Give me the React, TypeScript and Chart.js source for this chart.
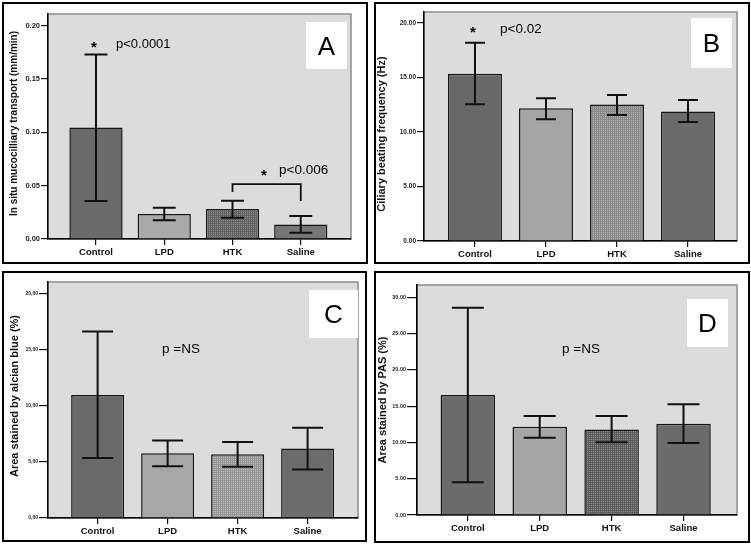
import React, { useEffect, useRef } from "react";
import { Chart, registerables } from "chart.js";

Chart.register(...registerables);

// ---------- data ----------
const categories = ["Control", "LPD", "HTK", "Saline"];

const transportMean = [0.1045, 0.0234, 0.0281, 0.0137];
const transportLow = [0.0356, 0.0175, 0.02, 0.0059];
const transportHigh = [0.173, 0.0293, 0.0359, 0.0215];
const transportTicks = [0, 0.05, 0.1, 0.15, 0.2];
const transportTickLabels = ["0.00", "0.05", "0.10", "0.15", "0.20"];

const cbfMean = [15.34, 12.18, 12.52, 11.87];
const cbfLow = [12.55, 11.17, 11.56, 10.92];
const cbfHigh = [18.19, 13.1, 13.4, 12.94];
const cbfTicks = [0, 5, 10, 15, 20];
const cbfTickLabels = ["0.00", "5.00", "10.00", "15.00", "20.00"];

const alcianMean = [10.95, 5.77, 5.68, 6.19];
const alcianLow = [5.33, 4.6, 4.55, 4.32];
const alcianHigh = [16.6, 6.9, 6.76, 8.04];
const alcianTicks = [0, 5, 10, 15, 20];
const alcianTickLabels = ["0,00", "5,00", "10,00", "15,00", "20,00"];

const pasMean = [16.54, 12.17, 11.8, 12.59];
const pasLow = [4.5, 10.66, 10.01, 9.92];
const pasHigh = [28.57, 13.64, 13.64, 15.25];
const pasTicks = [0, 5, 10, 15, 20, 25, 30];
const pasTickLabels = ["0.00", "5.00", "10.00", "15.00", "20.00", "25.00", "30.00"];

const FAMILY = '"Liberation Sans", Arial, Helvetica, sans-serif';

type Note = { kind: "star" | "text"; text: string; x: number; y: number; size: number };
type Bracket = { from: number; to: number; y: number; leftEnd: number; rightEnd: number };

interface PanelProps {
  left: number;
  top: number;
  width: number;
  height: number;
  area: { left: number; top: number; right: number; bottom: number };
  xMin: number;
  xMax: number;
  catPct: number;
  yMax: number;
  yTicks: number[];
  yTickLabels: string[];
  tickFont: number;
  tickLen: number;
  title: string;
  titleSize: number;
  titleX: number;
  titleY: number;
  mean: number[];
  low: number[];
  high: number[];
  colors: string[];
  htkTones: [string, string];
  cap: number;
  letter: string;
  letterBox: [number, number, number, number];
  notes: Note[];
  bracket?: Bracket;
}

function makePattern(a: string, b: string): CanvasPattern | string {
  const c = document.createElement("canvas");
  c.width = 2;
  c.height = 2;
  const g = c.getContext("2d");
  if (!g) return a;
  g.fillStyle = a;
  g.fillRect(0, 0, 1, 2);
  g.fillStyle = b;
  g.fillRect(1, 0, 1, 2);
  g.fillStyle = a;
  g.fillRect(1, 1, 1, 1);
  const p = g.createPattern(c, "repeat");
  return p || a;
}

function drawCentered(ctx: CanvasRenderingContext2D, text: string, cx: number, cy: number) {
  const m = ctx.measureText(text);
  const asc = m.actualBoundingBoxAscent;
  const desc = m.actualBoundingBoxDescent;
  ctx.textAlign = "center";
  ctx.textBaseline = "alphabetic";
  ctx.fillText(text, cx, cy + (asc - desc) / 2);
}

function Panel(p: PanelProps) {
  const ref = useRef<HTMLCanvasElement | null>(null);

  useEffect(() => {
    const canvas = ref.current;
    if (!canvas) return;
    const colors = p.colors.map((c, i) =>
      i === 2 ? makePattern(p.htkTones[0], p.htkTones[1]) : c
    );

    const deco = {
      id: "panelDeco",
      beforeDraw(chart: any) {
        const { ctx, chartArea: a, width, height } = chart;
        ctx.save();
        ctx.fillStyle = "#ffffff";
        ctx.fillRect(0, 0, width, height);
        ctx.fillStyle = "#dcdcdc";
        ctx.fillRect(a.left, a.top, a.right - a.left, a.bottom - a.top);
        ctx.strokeStyle = "#8c8c8c";
        ctx.lineWidth = 1.5;
        ctx.strokeRect(a.left, a.top, a.right - a.left, a.bottom - a.top);
        ctx.strokeStyle = "#000";
        ctx.lineWidth = 2;
        ctx.strokeRect(1, 1, width - 2, height - 2);
        // y title
        ctx.translate(p.titleX, p.titleY);
        ctx.rotate(-Math.PI / 2);
        ctx.font = `bold ${p.titleSize}px ${FAMILY}`;
        ctx.fillStyle = "#111";
        ctx.textAlign = "center";
        ctx.textBaseline = "middle";
        ctx.fillText(p.title, 0, 0);
        ctx.restore();
      },
      afterDatasetsDraw(chart: any) {
        const { ctx } = chart;
        const xs = chart.scales.x;
        const ys = chart.scales.y;
        ctx.save();
        // error bars
        ctx.strokeStyle = "#111";
        ctx.lineWidth = 2;
        p.mean.forEach((_, i) => {
          const cx = xs.getPixelForValue(i);
          const yl = ys.getPixelForValue(p.low[i]);
          const yh = ys.getPixelForValue(p.high[i]);
          const h = p.cap / 2;
          ctx.beginPath();
          ctx.moveTo(cx, yl);
          ctx.lineTo(cx, yh);
          ctx.moveTo(cx - h, yl);
          ctx.lineTo(cx + h, yl);
          ctx.moveTo(cx - h, yh);
          ctx.lineTo(cx + h, yh);
          ctx.stroke();
        });
        // bracket
        if (p.bracket) {
          const b = p.bracket;
          const x1 = xs.getPixelForValue(b.from);
          const x2 = xs.getPixelForValue(b.to);
          const yb = ys.getPixelForValue(b.y);
          ctx.lineWidth = 1.8;
          ctx.beginPath();
          ctx.moveTo(x1, ys.getPixelForValue(b.leftEnd));
          ctx.lineTo(x1, yb);
          ctx.lineTo(x2, yb);
          ctx.lineTo(x2, ys.getPixelForValue(b.rightEnd));
          ctx.stroke();
        }
        // letter box
        const [bx, by, bw, bh] = p.letterBox;
        ctx.fillStyle = "#ffffff";
        ctx.fillRect(bx, by, bw, bh);
        ctx.fillStyle = "#000";
        ctx.font = `26px ${FAMILY}`;
        drawCentered(ctx, p.letter, bx + bw / 2, by + bh / 2);
        // notes
        p.notes.forEach((n) => {
          ctx.fillStyle = "#000";
          if (n.kind === "star") {
            ctx.font = `bold ${n.size}px ${FAMILY}`;
            drawCentered(ctx, n.text, n.x, n.y);
          } else {
            ctx.font = `${n.size}px ${FAMILY}`;
            ctx.textAlign = "left";
            ctx.textBaseline = "alphabetic";
            ctx.fillText(n.text, n.x, n.y);
          }
        });
        ctx.restore();
      },
    };

    const chart = new Chart(canvas, {
      type: "bar",
      data: {
        datasets: [
          {
            data: p.mean.map((v, i) => ({ x: i, y: v })),
            backgroundColor: colors as any,
            borderColor: "#151515",
            borderWidth: 1.5,
            barPercentage: 1,
            categoryPercentage: p.catPct,
          },
        ],
      },
      options: {
        responsive: false,
        animation: false,
        devicePixelRatio: 1,
        layout: {
          padding: {
            left: 0,
            top: p.area.top,
            right: p.width - p.area.right,
            bottom: 0,
          },
        },
        plugins: {
          legend: { display: false },
          tooltip: { enabled: false },
          title: { display: false },
        },
        scales: {
          x: {
            type: "linear",
            offset: false,
            min: p.xMin,
            max: p.xMax,
            afterBuildTicks: (s: any) => {
              s.ticks = categories.map((_, i) => ({ value: i }));
            },
            afterFit: (s: any) => {
              s.height = p.height - p.area.bottom;
            },
            ticks: {
              callback: (_v: any, i: number) => categories[i],
              font: { size: 9.5, weight: "bold", family: FAMILY },
              color: "#111",
              padding: 2,
              maxRotation: 0,
              autoSkip: false,
            },
            grid: {
              offset: false,
              drawOnChartArea: false,
              drawTicks: true,
              tickLength: 6,
              color: "#111",
              lineWidth: 1.2,
            },
            border: { display: true, color: "#000", width: 1.5 },
          },
          y: {
            type: "linear",
            min: 0,
            max: p.yMax,
            afterBuildTicks: (s: any) => {
              s.ticks = p.yTicks.map((v) => ({ value: v }));
            },
            afterFit: (s: any) => {
              s.width = p.area.left;
            },
            ticks: {
              callback: (_v: any, i: number) => p.yTickLabels[i],
              font: { size: p.tickFont, weight: "bold", family: FAMILY },
              color: "#222",
              padding: 1,
              autoSkip: false,
            },
            grid: {
              drawOnChartArea: false,
              drawTicks: true,
              tickLength: p.tickLen,
              color: "#111",
              lineWidth: 1.2,
            },
            border: { display: true, color: "#000", width: 1.5 },
          },
        },
      },
      plugins: [deco],
    } as any);

    return () => chart.destroy();
  }, []);

  return (
    <canvas
      ref={ref}
      width={p.width}
      height={p.height}
      style={{
        position: "absolute",
        left: p.left,
        top: p.top,
        width: p.width,
        height: p.height,
      }}
    />
  );
}

export default function App() {
  const panelA: PanelProps = {
    left: 2, top: 2, width: 366, height: 262,
    area: { left: 46, top: 12, right: 349, bottom: 237 },
    xMin: -0.703, xMax: 3.736, catPct: 0.78,
    yMax: 0.211, yTicks: transportTicks, yTickLabels: transportTickLabels,
    tickFont: 7.5, tickLen: 7,
    title: "In situ mucocilliary transport (mm/min)", titleSize: 10, titleX: 12, titleY: 121.5,
    mean: transportMean, low: transportLow, high: transportHigh,
    colors: ["#6b6b6b", "#a9a9a9", "#7a7a7a", "#767676"], htkTones: ["#626262", "#8e8e8e"],
    cap: 23, letter: "A", letterBox: [304, 20, 41, 47],
    notes: [
      { kind: "star", text: "*", x: 92, y: 43, size: 15 },
      { kind: "text", text: "p<0.0001", x: 114, y: 46, size: 13 },
      { kind: "star", text: "*", x: 262, y: 171, size: 15 },
      { kind: "text", text: "p<0.006", x: 277, y: 172, size: 13.5 },
    ],
    bracket: { from: 2, to: 3, y: 0.0515, leftEnd: 0.044, rightEnd: 0.0356 },
  };

  const panelB: PanelProps = {
    left: 374, top: 2, width: 376, height: 262,
    area: { left: 50, top: 10, right: 363, bottom: 239 },
    xMin: -0.718, xMax: 3.69, catPct: 0.76,
    yMax: 21, yTicks: cbfTicks, yTickLabels: cbfTickLabels,
    tickFont: 6.5, tickLen: 7,
    title: "Ciliary beating frequency (Hz)", titleSize: 11, titleX: 8, titleY: 132,
    mean: cbfMean, low: cbfLow, high: cbfHigh,
    colors: ["#686868", "#a5a5a5", "#9c9c9c", "#6b6b6b"], htkTones: ["#8a8a8a", "#b0b0b0"],
    cap: 20, letter: "B", letterBox: [317, 16, 41, 50],
    notes: [
      { kind: "star", text: "*", x: 99, y: 28, size: 15 },
      { kind: "text", text: "p<0.02", x: 126, y: 31, size: 13.5 },
    ],
  };

  const panelC: PanelProps = {
    left: 2, top: 271, width: 365, height: 271,
    area: { left: 46, top: 11, right: 356, bottom: 247 },
    xMin: -0.709, xMax: 3.72, catPct: 0.757,
    yMax: 21, yTicks: alcianTicks, yTickLabels: alcianTickLabels,
    tickFont: 5, tickLen: 9,
    title: "Area stained by alcian blue (%)", titleSize: 11, titleX: 13, titleY: 125,
    mean: alcianMean, low: alcianLow, high: alcianHigh,
    colors: ["#6a6a6a", "#a7a7a7", "#a5a5a5", "#6c6c6c"], htkTones: ["#969696", "#bcbcbc"],
    cap: 31, letter: "C", letterBox: [307, 19, 49, 48],
    notes: [{ kind: "text", text: "p =NS", x: 160, y: 82, size: 13.5 }],
  };

  const panelD: PanelProps = {
    left: 374, top: 271, width: 376, height: 272,
    area: { left: 43, top: 14, right: 363, bottom: 244 },
    xMin: -0.707, xMax: 3.744, catPct: 0.758,
    yMax: 31.7, yTicks: pasTicks, yTickLabels: pasTickLabels,
    tickFont: 5.5, tickLen: 10,
    title: "Area stained by PAS (%)", titleSize: 11, titleX: 9, titleY: 129,
    mean: pasMean, low: pasLow, high: pasHigh,
    colors: ["#6b6b6b", "#a6a6a6", "#777777", "#6b6b6b"], htkTones: ["#5c5c5c", "#8c8c8c"],
    cap: 32, letter: "D", letterBox: [313, 28, 41, 48],
    notes: [{ kind: "text", text: "p =NS", x: 188, y: 82, size: 13.5 }],
  };

  return (
    <div
      style={{
        position: "fixed",
        left: 0,
        top: 0,
        width: 751,
        height: 545,
        background: "#ffffff",
        overflow: "hidden",
      }}
    >
      <Panel {...panelA} />
      <Panel {...panelB} />
      <Panel {...panelC} />
      <Panel {...panelD} />
    </div>
  );
}
